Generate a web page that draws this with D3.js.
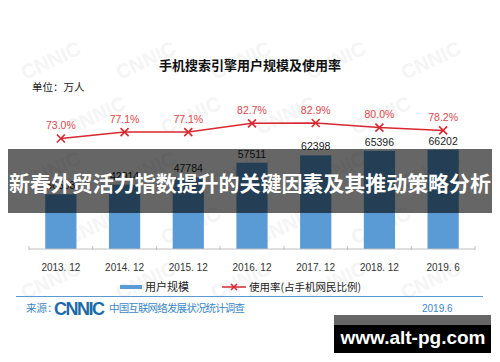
<!DOCTYPE html>
<html>
<head>
<meta charset="utf-8">
<script src="https://cdn.jsdelivr.net/npm/d3@7"></script>
<style>
  body { margin: 0; background: #fff; }
  svg { display: block; font-family: "Liberation Sans", "Noto Sans CJK SC", sans-serif; }
</style>
</head>
<body>
<svg id="chart" width="500" height="362"></svg>
<script>
// data
const periods = ["2013. 12", "2014. 12", "2015. 12", "2016. 12", "2017. 12", "2018. 12", "2019. 6"];
const users = [36503, 42914, 47784, 57511, 62398, 65396, 66202];
const rates = [73.0, 77.1, 77.1, 82.7, 82.9, 80.0, 78.2];

const svg = d3.select("#chart");

// faint CNNIC watermark, kept inside the chart picture
const wm = svg.append("g");
for (var i = 0; i < 5; i++) {
    for (var j = 0; j < 5; j++) {
        var wx = i * 95 + (j % 2) * 45 + 25;
        if (wx > 420) continue;
        wm.append("text")
            .text("CNNIC")
            .attr("transform", "translate(" + wx + "," + (j * 55 + 80) + ") rotate(-25)")
            .style("font-size", "20px")
            .style("font-weight", "bold")
            .attr("fill", "#f5f5f5");
    }
}

svg.append("text")
    .text("手机搜索引擎用户规模及使用率")
    .attr("x", 250).attr("y", 70)
    .attr("text-anchor", "middle")
    .style("font-family", "Noto Sans CJK SC")
    .style("font-size", "13px")
    .style("font-weight", "bold")
    .attr("fill", "#111");

svg.append("text")
    .text("单位：万人")
    .attr("x", 32).attr("y", 91)
    .style("font-family", "Noto Sans CJK SC")
    .style("font-size", "10.5px")
    .attr("fill", "#222");

const x = d3.scaleBand()
    .domain(periods)
    .range([29, 475])
    .paddingInner(0.51)
    .paddingOuter(0.255);

const y = d3.scaleLinear().domain([0, 80000]).range([249, 129]);
const y2 = d3.scaleLinear().domain([60, 90]).range([158.9, 111.9]);

// bars
svg.selectAll("rect.bar")
    .data(users)
    .enter().append("rect")
    .attr("class", "bar")
    .attr("x", (d, i) => x(periods[i]))
    .attr("y", d => y(d))
    .attr("width", x.bandwidth())
    .attr("height", d => y(0) - y(d))
    .attr("fill", "#5b9bd5");

svg.selectAll("text.val")
    .data(users)
    .enter().append("text")
    .attr("class", "val")
    .text(d => d)
    .attr("x", (d, i) => x(periods[i]) + x.bandwidth() / 2)
    .attr("y", d => y(d) - 5)
    .attr("text-anchor", "middle")
    .style("font-size", "10.5px")
    .attr("fill", "#222");

// axis
const step = x.step();
svg.append("line")
    .attr("x1", 29).attr("x2", 475)
    .attr("y1", y(0)).attr("y2", y(0))
    .attr("stroke", "#bfbfbf").attr("stroke-width", 1);
for (var k = 0; k <= periods.length; k++) {
    svg.append("line")
        .attr("x1", 29 + k * step).attr("x2", 29 + k * step)
        .attr("y1", y(0) - 3).attr("y2", y(0) + 1)
        .attr("stroke", "#bfbfbf").attr("stroke-width", 1);
}
svg.selectAll("text.tick")
    .data(periods)
    .enter().append("text")
    .attr("class", "tick")
    .text(d => d)
    .attr("x", d => x(d) + x.bandwidth() / 2)
    .attr("y", 271)
    .attr("text-anchor", "middle")
    .style("font-size", "10px")
    .attr("fill", "#333");

// rate line
const line = d3.line()
    .x((d, i) => x(periods[i]) + x.bandwidth() / 2)
    .y(d => y2(d));
svg.append("path")
    .datum(rates)
    .attr("d", line)
    .attr("fill", "none")
    .attr("stroke", "#d9282f")
    .attr("stroke-width", 1.5);

rates.forEach(function (d, i) {
    const cx = x(periods[i]) + x.bandwidth() / 2, cy = y2(d);
    svg.append("path")
        .attr("d", "M" + (cx - 4) + "," + (cy - 4) + "L" + (cx + 4) + "," + (cy + 4) + "M" + (cx - 4) + "," + (cy + 4) + "L" + (cx + 4) + "," + (cy - 4))
        .attr("stroke", "#d9282f")
        .attr("stroke-width", 1.6);
    svg.append("text")
        .text(d.toFixed(1) + "%")
        .attr("x", cx).attr("y", cy - 9.5)
        .attr("text-anchor", "middle")
        .style("font-size", "10.5px")
        .attr("fill", "#e0474c");
});

// legend
svg.append("line")
    .attr("x1", 120).attr("x2", 142).attr("y1", 287).attr("y2", 287)
    .attr("stroke", "#5b9bd5").attr("stroke-width", 4);
svg.append("text")
    .text("用户规模")
    .attr("x", 145).attr("y", 291)
    .style("font-family", "Noto Sans CJK SC")
    .style("font-size", "11px")
    .attr("fill", "#222");
svg.append("line")
    .attr("x1", 222).attr("x2", 246).attr("y1", 287).attr("y2", 287)
    .attr("stroke", "#d9282f").attr("stroke-width", 1.5);
svg.append("path")
    .attr("d", "M231,284L237,290M231,290L237,284")
    .attr("stroke", "#d9282f").attr("stroke-width", 1.5);
svg.append("text")
    .text("使用率(占手机网民比例)")
    .attr("x", 249).attr("y", 291)
    .style("font-family", "Noto Sans CJK SC")
    .style("font-size", "10.5px")
    .attr("fill", "#222");

// source footer
svg.append("line")
    .attr("x1", 16).attr("x2", 483).attr("y1", 296.5).attr("y2", 296.5)
    .attr("stroke", "#5b9bd5").attr("stroke-width", 1.2);
svg.append("text")
    .text("来源：")
    .attr("x", 26).attr("y", 312)
    .style("font-family", "Noto Sans CJK SC")
    .style("font-size", "10.5px")
    .attr("fill", "#3a87c8");
svg.append("text")
    .text("CNNIC")
    .attr("x", 54).attr("y", 314.5)
    .attr("textLength", 51)
    .style("font-size", "18px")
    .style("font-weight", "bold")
    .attr("fill", "#1c6aa8");
svg.append("text")
    .text("中国互联网络发展状况统计调查")
    .attr("x", 109).attr("y", 312)
    .attr("textLength", 136)
    .style("font-family", "Noto Sans CJK SC")
    .style("font-size", "10.5px")
    .attr("fill", "#3a87c8");
svg.append("text")
    .text("2019.6")
    .attr("x", 422).attr("y", 312)
    .style("font-size", "10px")
    .attr("fill", "#3a87c8");

// overlay banner
svg.append("rect")
    .attr("x", 8).attr("y", 149)
    .attr("width", 484).attr("height", 64)
    .attr("fill", "rgba(0,0,0,0.6)");
svg.append("text")
    .text("新春外贸活力指数提升的关键因素及其推动策略分析")
    .attr("x", 250).attr("y", 191)
    .attr("text-anchor", "middle")
    .attr("textLength", 482)
    .style("font-family", "Noto Sans CJK SC")
    .style("font-size", "21px")
    .style("font-weight", "bold")
    .attr("fill", "#fff");

// site badge
svg.append("rect")
    .attr("x", 334).attr("y", 315).attr("width", 157).attr("height", 10)
    .attr("fill", "#666");
svg.append("rect")
    .attr("x", 334).attr("y", 325).attr("width", 157).attr("height", 28)
    .attr("fill", "#000");
svg.append("text")
    .text("www.alt-pg.com")
    .attr("x", 413).attr("y", 344)
    .attr("text-anchor", "middle")
    .style("font-size", "19px")
    .style("font-weight", "bold")
    .attr("fill", "#fff");
</script>
</body>
</html>
